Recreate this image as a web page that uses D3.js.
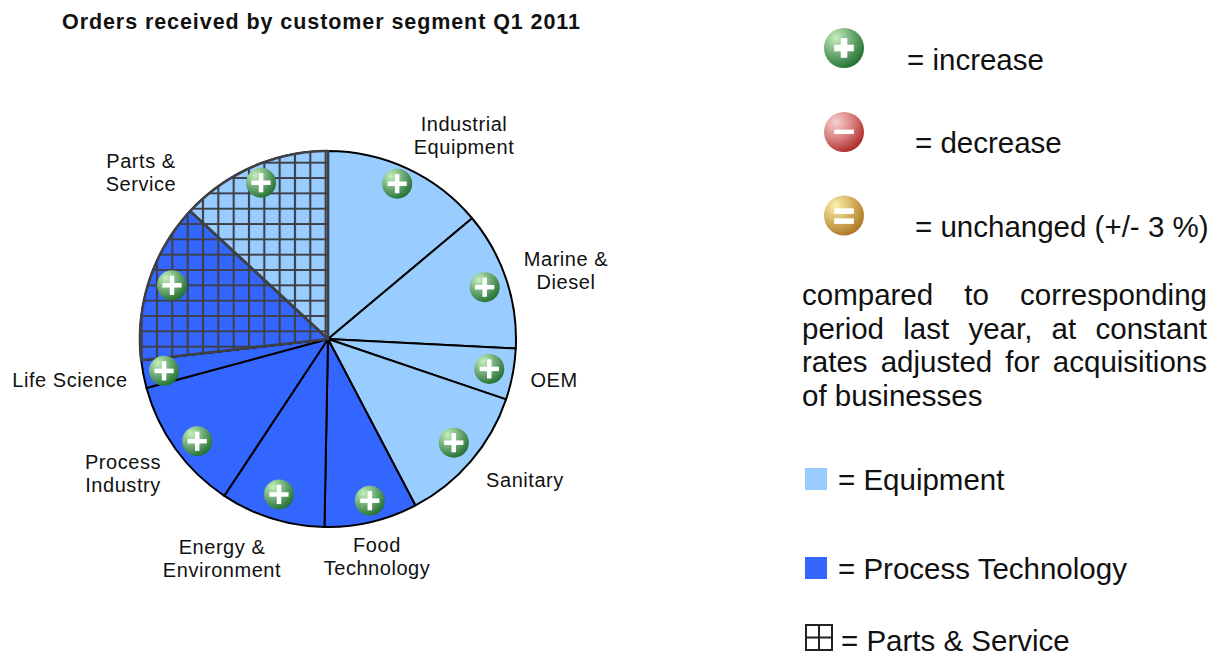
<!DOCTYPE html>
<html><head><meta charset="utf-8">
<script src="https://cdn.jsdelivr.net/npm/d3@7"></script>
<style>
html,body{margin:0;padding:0;background:#fff}
svg{display:block}
text{font-family:"Liberation Sans",Arial,sans-serif;fill:#111}
</style></head><body>
<svg id="c" width="1210" height="653"></svg>
<script>
const segments=["Industrial Equipment","Marine & Diesel","OEM","Sanitary","Food Technology","Energy & Environment","Process Industry","Life Science","Parts & Service (Process Technology)","Parts & Service (Equipment)"];
const shares=[13.9,11.9,4.4,12.1,8.0,9.0,11.5,2.4,13.7,13.1];
const groups=["eq","eq","eq","eq","pt","pt","pt","pt","pt","eq"];
const hatched=[false,false,false,false,false,false,false,false,true,true];
const trends=["up","up","up","up","up","up","up","up","up","up"];
const badgeAngles=[24,71.7,100.5,129.5,165.5,197.5,232,259,289,336.8];
const badgeRadii=[170,165,164,163,167,163,166,167,165,170];
const pieLabels=[
 {lines:["Industrial","Equipment"],x:464,y:131},
 {lines:["Marine &","Diesel"],x:566,y:266},
 {lines:["OEM"],x:554,y:387},
 {lines:["Sanitary"],x:525,y:487},
 {lines:["Food","Technology"],x:377,y:552},
 {lines:["Energy &","Environment"],x:222,y:554},
 {lines:["Process","Industry"],x:123,y:469},
 {lines:["Life Science"],x:70,y:387},
 {lines:["Parts &","Service"],x:141,y:168}
];
const colors={eq:"#99ccff",pt:"#3366ff"};
const cx=328,cy=339,R=188;
const svg=d3.select("#c"),defs=svg.append("defs");

function grad(id,stops){
  const g=defs.append("radialGradient").attr("id",id).attr("cx","30%").attr("cy","25%").attr("r","85%");
  stops.forEach(([o,c])=>g.append("stop").attr("offset",o).attr("stop-color",c));
}
grad("g-up",[["0","#c4f0bc"],["0.5","#6ba873"],["1","#1a6a2a"]]);
grad("g-down",[["0","#f6d2d2"],["0.5","#d98080"],["1","#a81f1f"]]);
grad("g-same",[["0","#f8f2a8"],["0.5","#d4b060"],["1","#a8701c"]]);
defs.append("filter").attr("id","soft").attr("x","-20%").attr("y","-20%").attr("width","140%").attr("height","140%")
  .append("feGaussianBlur").attr("stdDeviation",0.7);

const cell=15.33;
const pat=defs.append("pattern").attr("id","hatch").attr("patternUnits","userSpaceOnUse")
  .attr("width",cell).attr("height",cell).attr("x",310.3-0.5*cell).attr("y",162.7-0.5*cell);
pat.append("path").attr("d",`M${cell/2} 0V${cell}M0 ${cell/2}H${cell}`).attr("stroke","#3d4147").attr("stroke-width",2.1).attr("fill","none");

svg.append("text").attr("x",321).attr("y",29).attr("text-anchor","middle")
  .attr("font-size",21.5).attr("font-weight","bold").attr("textLength",518).text("Orders received by customer segment Q1 2011");

const pie=d3.pie().sort(null).value(d=>d.v);
const rows=shares.map((v,i)=>({v,name:segments[i],group:groups[i],hatched:hatched[i],trend:trends[i],ba:badgeAngles[i],br:badgeRadii[i]}));
const arcs=pie(rows);
const arc=d3.arc().innerRadius(0).outerRadius(R);
const g=svg.append("g").attr("transform",`translate(${cx},${cy})`);
g.selectAll("path.s").data(arcs).join("path").attr("class","s").attr("d",arc)
  .attr("fill",d=>colors[d.data.group]).attr("stroke","#000").attr("stroke-width",2).attr("stroke-linejoin","round");
// The hatched slices keep a page-anchored grid, so they are drawn without the group's transform.
const hatchedArcs=arcs.filter(d=>d.data.hatched);
const hatchPath=d=>{
  const n=32,pts=[[cx,cy]];
  for(let k=0;k<=n;k++){const t=d.startAngle+(d.endAngle-d.startAngle)*k/n;
    pts.push([cx+R*Math.sin(t),cy-R*Math.cos(t)]);}
  return d3.line()(pts)+"Z";
};
svg.append("g").selectAll("path").data(hatchedArcs).join("path").attr("d",hatchPath)
  .attr("fill",d=>colors[d.data.group]);
svg.append("g").selectAll("path").data(hatchedArcs).join("path").attr("d",hatchPath)
  .attr("fill","url(#hatch)").attr("stroke","#3d4147").attr("stroke-width",2.6).attr("stroke-linejoin","round");

function badge(sel,x,y,r,kind,large){
  const b=sel.append("g").attr("transform",`translate(${x},${y})`);
  if(large)b.attr("filter","url(#soft)");
  b.append("circle").attr("r",r).attr("fill",`url(#g-${kind})`);
  const L=large?r*0.49:r*0.64,w=large?r*0.33:r*0.3;
  if(kind==="up"){
    b.append("rect").attr("x",-L).attr("y",-w/2).attr("width",2*L).attr("height",w).attr("fill","#fff");
    b.append("rect").attr("x",-w/2).attr("y",-L).attr("width",w).attr("height",2*L).attr("fill","#fff");
  }else if(kind==="down"){
    b.append("rect").attr("x",-L).attr("y",-r*0.12).attr("width",2*L).attr("height",r*0.22).attr("fill","#fff");
  }else{
    b.append("rect").attr("x",-L).attr("y",-r*0.36).attr("width",2*L).attr("height",r*0.28).attr("fill","#fff");
    b.append("rect").attr("x",-L).attr("y",r*0.14).attr("width",2*L).attr("height",r*0.28).attr("fill","#fff");
  }
}
arcs.forEach(d=>{
  const t=d.data.ba*Math.PI/180;
  badge(svg,cx+d.data.br*Math.sin(t),cy-d.data.br*Math.cos(t),15,d.data.trend,false);
});

pieLabels.forEach(l=>{
  const t=svg.append("text").attr("text-anchor","middle").attr("font-size",20).attr("letter-spacing",0.55);
  l.lines.forEach((s,i)=>t.append("tspan").attr("x",l.x).attr("y",l.y+i*23).text(s));
});

const legendFont=29.5;
const legendTrend=[{k:"up",y:48,x:907,ty:70,s:"= increase"},{k:"down",y:132,x:915,ty:153,s:"= decrease"},{k:"same",y:215.5,x:915,ty:237,s:"= unchanged (+/- 3 %)"}];
legendTrend.forEach(d=>{
  badge(svg,844,d.y,20,d.k,true);
  svg.append("text").attr("x",d.x).attr("y",d.ty).attr("font-size",legendFont).text(d.s);
});
const para=[["compared","to","corresponding"],["period","last","year,","at","constant"],["rates","adjusted","for","acquisitions"],["of","businesses"]];
para.forEach((words,i)=>{
  const t=svg.append("text").attr("x",802).attr("y",305+i*33.5).attr("font-size",legendFont).text(words.join(" "));
  if(i<para.length-1){
    const w=t.node().getComputedTextLength();
    t.attr("word-spacing",(405-w)/(words.length-1));
  }
});
svg.append("rect").attr("x",805).attr("y",468).attr("width",22).attr("height",22).attr("fill",colors.eq);
svg.append("text").attr("x",838).attr("y",490).attr("font-size",legendFont).text("= Equipment");
svg.append("rect").attr("x",805).attr("y",557).attr("width",22).attr("height",22).attr("fill",colors.pt);
svg.append("text").attr("x",838).attr("y",579).attr("font-size",legendFont).text("= Process Technology");
svg.append("path").attr("d","M806 625H832V650H806ZM819 625V650M806 637.5H832").attr("fill","none").attr("stroke","#222").attr("stroke-width",2);
svg.append("text").attr("x",841).attr("y",650.5).attr("font-size",legendFont).text("= Parts & Service");
</script>
</body></html>
